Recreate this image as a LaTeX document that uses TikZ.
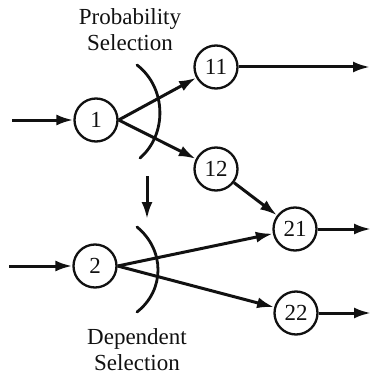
\documentclass[tikz,border=0pt]{standalone}
\usepackage{fontspec}
\setmainfont{Liberation Serif}
\usetikzlibrary{arrows.meta,positioning}
\definecolor{Ink}{HTML}{111111}
\tikzset{
  state/.style={circle, draw=Ink, line width=2.3pt, minimum size=43pt, inner sep=0pt,
    text=Ink, font=\rmfamily\fontsize{23}{26}\selectfont},
  flow/.style={-{Latex[length=17pt,width=11pt]}, draw=Ink, line width=3pt},
  selector/.style={draw=Ink, line width=2.8pt, line cap=round},
  stage label/.style={text=Ink, align=center, font=\rmfamily\fontsize{23}{26}\selectfont},
}

\begin{document}
\begin{tikzpicture}[x=1pt, y=-1pt]
  \useasboundingbox (0,0) rectangle (372,377);

  % states of the two levels
  \node[state] (one) at (96,120) {1};
  \node[state] (oneOne) at (216,67) {11};
  \node[state] (oneTwo) at (216,169) {12};
  \node[state] (two) at (95,266) {2};
  \node[state] (twoOne) at (295,229) {21};
  \node[state] (twoTwo) at (296,313) {22};

  \node[stage label] (probLabel) at (130,30) {Probability\\Selection};
  \node[stage label] (depLabel) at (137,350) {Dependent\\Selection};

  % free ends of the connectors
  \coordinate (inOne) at (12,120);
  \coordinate (inTwo) at (9,266);
  \coordinate (outOneOne) at (370,67);
  \coordinate (outTwoOne) at (371,229);
  \coordinate (outTwoTwo) at (371,313);
  \coordinate (linkTop) at (147,176);
  \coordinate (linkTip) at (147,219);

  % selection brackets
  \draw[selector] (137,65) .. controls (167,88) and (167,135) .. (140,158);
  \draw[selector] (137,227) .. controls (165,250) and (165,290) .. (137,312);

  \draw[flow] (inOne) -- (one);
  \draw[flow] (one.east) -- (oneOne);
  \draw[flow] (one.east) -- (oneTwo);
  \draw[flow] (oneOne) -- (outOneOne);
  \draw[flow] (oneTwo) -- (twoOne);
  \draw[flow] (linkTop) -- (linkTip);
  \draw[flow] (inTwo) -- (two);
  \draw[flow] (two.east) -- (twoOne);
  \draw[flow] (two.east) -- (twoTwo);
  \draw[flow] (twoOne) -- (outTwoOne);
  \draw[flow] (twoTwo) -- (outTwoTwo);
\end{tikzpicture}
\end{document}
